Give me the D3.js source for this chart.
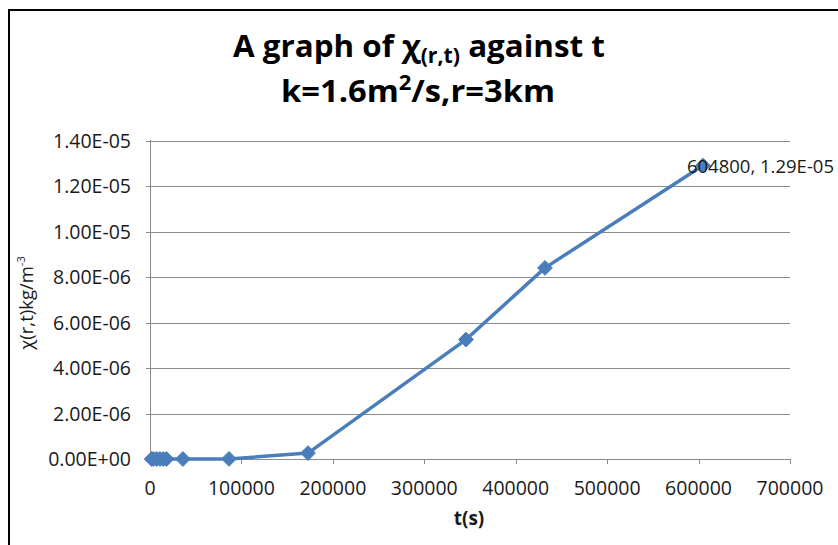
<!DOCTYPE html>
<html><head><meta charset="utf-8">
<script src="https://cdn.jsdelivr.net/npm/d3@7"></script>
<style>body{margin:0;background:#fff}svg{display:block}</style>
</head><body>
<svg id="c" width="838" height="545"></svg>
<script>
const tValues = [1800, 3600, 7200, 10800, 14400, 18000, 36000, 86400, 172800, 345600, 432000, 604800];
const chiValues = [0, 0, 0, 0, 0, 0, 1e-10, 5e-9, 2.6e-7, 5.25e-6, 8.4e-6, 1.29e-5];
const xTicks = [0, 100000, 200000, 300000, 400000, 500000, 600000, 700000];
const yTicks = [0, 2e-6, 4e-6, 6e-6, 8e-6, 1e-5, 1.2e-5, 1.4e-5];
const yTickLabels = ["0.00E+00","2.00E-06","4.00E-06","6.00E-06","8.00E-06","1.00E-05","1.20E-05","1.40E-05"];
const dataLabel = "604800, 1.29E-05";

const svg = d3.select("#c");
const font = "'Open Sans', sans-serif";
// frame
svg.append("path").attr("d","M9,545 L9,10 L838,10").attr("fill","none").attr("stroke","#000").attr("stroke-width",2);

const x = d3.scaleLinear().domain([0,700000]).range([150,790]);
const y = d3.scaleLinear().domain([0,1.4e-5]).range([459,140.5]);

// gridlines
svg.append("g").selectAll("line").data(yTicks).join("line")
  .attr("x1",146).attr("x2",790).attr("y1",d=>Math.round(y(d))+0.5).attr("y2",d=>Math.round(y(d))+0.5)
  .attr("stroke","#8c8c8c").attr("stroke-width",1);
// y axis line
svg.append("line").attr("x1",150.5).attr("x2",150.5).attr("y1",140).attr("y2",464)
  .attr("stroke","#8c8c8c");
// x ticks
svg.append("g").selectAll("line").data(xTicks).join("line")
  .attr("x1",d=>Math.round(x(d))+0.5).attr("x2",d=>Math.round(x(d))+0.5).attr("y1",459).attr("y2",464)
  .attr("stroke","#8c8c8c");

// tick labels
svg.append("g").selectAll("text").data(yTicks).join("text")
  .attr("x",131).attr("y",d=>y(d)+7).attr("text-anchor","end")
  .attr("font-family",font).attr("font-size",19.5).attr("fill","#1a1a1a")
  .text((d,i)=>yTickLabels[i]);
svg.append("g").selectAll("text").data(xTicks).join("text")
  .attr("x",d=>x(d)).attr("y",495).attr("text-anchor","middle")
  .attr("font-family",font).attr("font-size",19.5).attr("fill","#1a1a1a")
  .text(d=>d3.format("d")(d));

// line
const pts = tValues.map((t,i)=>[t,chiValues[i]]);
svg.append("path").datum(pts)
  .attr("d",d3.line().x(d=>x(d[0])).y(d=>y(d[1])))
  .attr("fill","none").attr("stroke","#4a7ebb").attr("stroke-width",3.5).attr("stroke-linejoin","round");
svg.append("g").selectAll("path").data(pts).join("path")
  .attr("transform",d=>`translate(${x(d[0])},${y(d[1])})`)
  .attr("d",d3.symbol(d3.symbolDiamond2, 140)).attr("fill","#4a7ebb").attr("stroke","#4a7ebb").attr("stroke-width",1);

// data label
const last = pts[pts.length-1];
svg.append("text").attr("x",x(last[0])-16).attr("y",y(last[1])+7)
  .attr("font-family",font).attr("font-size",18.5).attr("fill","#1a1a1a").text(dataLabel);

// title
const t1 = svg.append("text").attr("x",419).attr("y",57).attr("text-anchor","middle")
  .attr("font-family",font).attr("font-weight","bold").attr("font-size",31).attr("fill","#000")
  .attr("textLength",372).attr("lengthAdjust","spacingAndGlyphs");
t1.append("tspan").text("A graph of χ");
t1.append("tspan").attr("font-size",21).attr("dy",6).text("(r,t)");
t1.append("tspan").attr("dy",-6).text(" against t");
const t2 = svg.append("text").attr("x",418).attr("y",102).attr("text-anchor","middle")
  .attr("font-family",font).attr("font-weight","bold").attr("font-size",31).attr("fill","#000")
  .attr("textLength",274).attr("lengthAdjust","spacingAndGlyphs");
t2.append("tspan").text("k=1.6m");
t2.append("tspan").attr("font-size",21).attr("dy",-12).text("2");
t2.append("tspan").attr("dy",12).text("/s,r=3km");

// axis titles
svg.append("text").attr("x",469).attr("y",525).attr("text-anchor","middle")
  .attr("font-family",font).attr("font-weight","bold").attr("font-size",19).attr("fill","#1a1a1a").text("t(s)");
const yt = svg.append("text").attr("transform","translate(33,303) rotate(-90)").attr("text-anchor","middle")
  .attr("font-family",font).attr("font-size",18.5).attr("fill","#1a1a1a");
yt.append("tspan").text("χ(r,t)kg/m");
yt.append("tspan").attr("font-size",11).attr("dy",-8).text("-3");
</script>
</body></html>
